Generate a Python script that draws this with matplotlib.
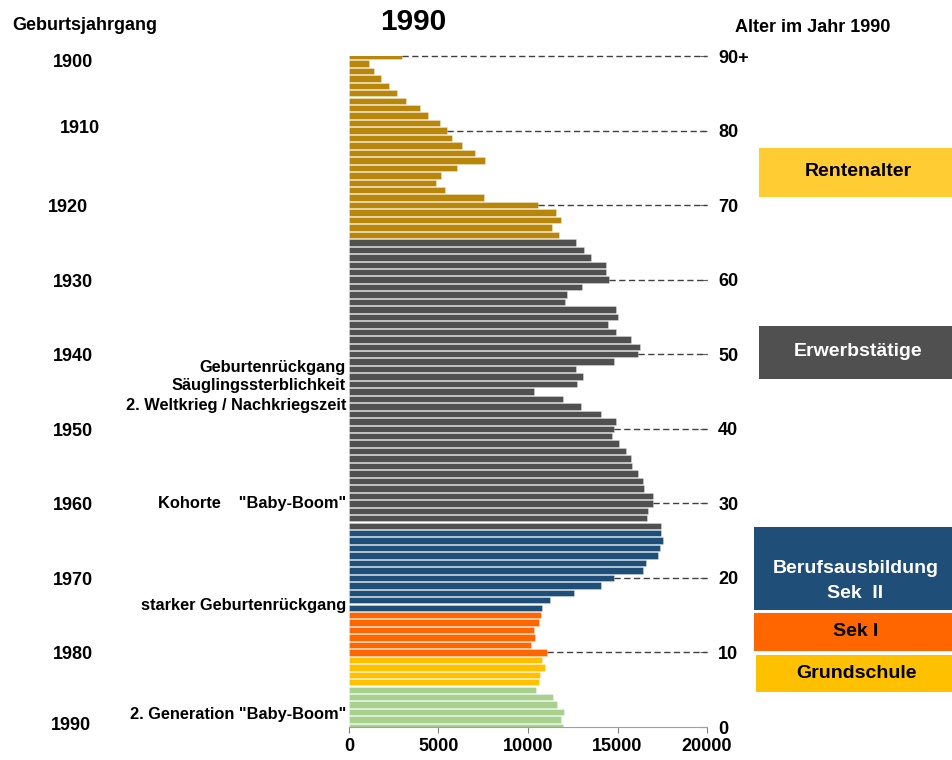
import matplotlib
matplotlib.use("Agg")
import matplotlib.pyplot as plt
from matplotlib.patches import Rectangle
from matplotlib.transforms import blended_transform_factory

plt.rcParams['font.family'] = ['Liberation Sans', 'DejaVu Sans']
plt.rcParams['font.weight'] = 'bold'

# Bevölkerung nach Alter (0 .. 90+) im Jahr 1990
ages = list(range(0, 91))
population = [
    11940, 11830, 12010, 11620, 11400, 10450, 10620, 10670, 10970, 10760,
    11060, 10190, 10410, 10350, 10600, 10710, 10800, 11230, 12590, 14070,
    14810, 16430, 16600, 17260, 17350, 17520, 17420, 17420, 16640, 16730,
    16960, 16960, 16470, 16430, 16120, 15820, 15780, 15470, 15070, 14700,
    14810, 14900, 14090, 12950, 11940, 10350, 12720, 13080, 12690, 14830,
    16170, 16270, 15740, 14900, 14480, 15000, 14900, 12070, 12200, 13020,
    14510, 14380, 14350, 13540, 13110, 12690, 11750, 11360, 11850, 11550,
    10540, 7550, 5340, 4850, 5150, 6060, 7590, 7030, 6340, 5780,
    5500, 5110, 4400, 3940, 3190, 2700, 2220, 1770, 1420, 1120,
    2970,
]

# Altersgruppen (von, bis) -> Farbe
groups = [(0, 5, "#A9D18E"), (6, 9, "#FFC000"), (10, 15, "#FF6600"),
          (16, 26, "#1F4E79"), (27, 65, "#505050"), (66, 90, "#B8860B")]

age_ticks = [0, 10, 20, 30, 40, 50, 60, 70, 80, 90]
age_labels = ["0", "10", "20", "30", "40", "50", "60", "70", "80", "90+"]
year_labels = ["1990", "1980", "1970", "1960", "1950", "1940", "1930", "1920", "1910", "1900"]
year_x = [71, 73, 73, 73, 73, 73, 73, 68, 80, 73]
year_dy = [0.15, -0.3, -0.3, -0.3, -0.3, -0.3, -0.4, -0.3, 0.3, -0.85]
x_ticks = [0, 5000, 10000, 15000, 20000]

notes = [("Geburtenrückgang", 48.2), ("Säuglingssterblichkeit", 45.8),
         ("2. Weltkrieg / Nachkriegszeit", 43.1), ('Kohorte    "Baby-Boom"', 30.0),
         ("starker Geburtenrückgang", 16.3), ('2. Generation "Baby-Boom"', 1.7)]

# Text, [x0, y0, w, h], Textmitte y, Füllfarbe, Textfarbe
boxes = [("Rentenalter", [0.7964, 0.7408, 0.2036, 0.0645], 172, "#FFCC33", "black"),
         ("Erwerbstätige", [0.7964, 0.5013, 0.2036, 0.0697], 352, "#505050", "white"),
         ("Berufsausbildung\nSek  II", [0.7912, 0.1974, 0.2088, 0.1092], 581, "#1F4E79", "white"),
         ("Sek I", [0.7912, 0.1434, 0.2088, 0.0500], 632, "#FF6600", "black"),
         ("Grundschule", [0.7933, 0.0895, 0.2067, 0.0487], 673, "#FFC000", "black")]


def color_for(age):
    for lo, hi, c in groups:
        if lo <= age <= hi:
            return c
    return "gray"


fig = plt.figure(figsize=(9.53, 7.6), dpi=100)
ax = fig.add_axes([0.3662, 0.0434, 0.3757, 0.8829])

colors = [color_for(a) for a in ages]
ax.barh(ages, population, height=0.86, color=colors,
        edgecolor=(1, 1, 1, 0.35), linewidth=0.6)

# gestrichelte Hilfslinien
for a in age_ticks[1:]:
    ax.plot([population[a], x_ticks[-1]], [a, a], color="#404040",
            linestyle=(0, (4.5, 2.5)), linewidth=1.0, clip_on=False)

ax.set_xlim(0, 20000)
ax.set_ylim(0, 90)
for s in ["left", "top", "right"]:
    ax.spines[s].set_visible(False)
ax.spines["bottom"].set_color("#A0A0A0")

ax.set_xticks(x_ticks)
ax.set_xticklabels([str(v) for v in x_ticks])
ax.tick_params(axis="x", labelsize=13, direction="out", length=4,
               color="#808080", pad=4)

ax.yaxis.tick_right()
ax.set_yticks(age_ticks)
ax.set_yticklabels(age_labels)
ax.tick_params(axis="y", labelsize=13, direction="in", length=5,
               color="#606060", pad=8)

# Geburtsjahrgänge links
tr = blended_transform_factory(fig.transFigure, ax.transData)
for lbl, a, xp, dy in zip(year_labels, age_ticks, year_x, year_dy):
    ax.text(xp / 953, a + dy, lbl, transform=tr, ha="center", va="center",
            fontsize=13, clip_on=False)

tr2 = blended_transform_factory(ax.transAxes, ax.transData)
for txt, a in notes:
    ax.text(-0.008, a, txt, transform=tr2, ha="right", va="center",
            fontsize=11.8, clip_on=False)

fig.text(413 / 953, 1 - 22 / 760, "1990", ha="center", va="center", fontsize=21.5)
fig.text(85 / 953, 1 - 25 / 760, "Geburtsjahrgang", ha="center", va="center", fontsize=13)
fig.text(813 / 953, 1 - 27 / 760, "Alter im Jahr 1990", ha="center", va="center", fontsize=13)

for txt, (x0, y0, w, h), ty, fc, tc in boxes:
    fig.patches.append(Rectangle((x0, y0), w, h, transform=fig.transFigure,
                                 facecolor=fc, edgecolor="none"))
    fig.text(x0 + w / 2 + 0.002, 1 - ty / 760, txt, ha="center", va="center",
             fontsize=14, color=tc, linespacing=1.55)

fig.savefig("out.png", dpi=100)
